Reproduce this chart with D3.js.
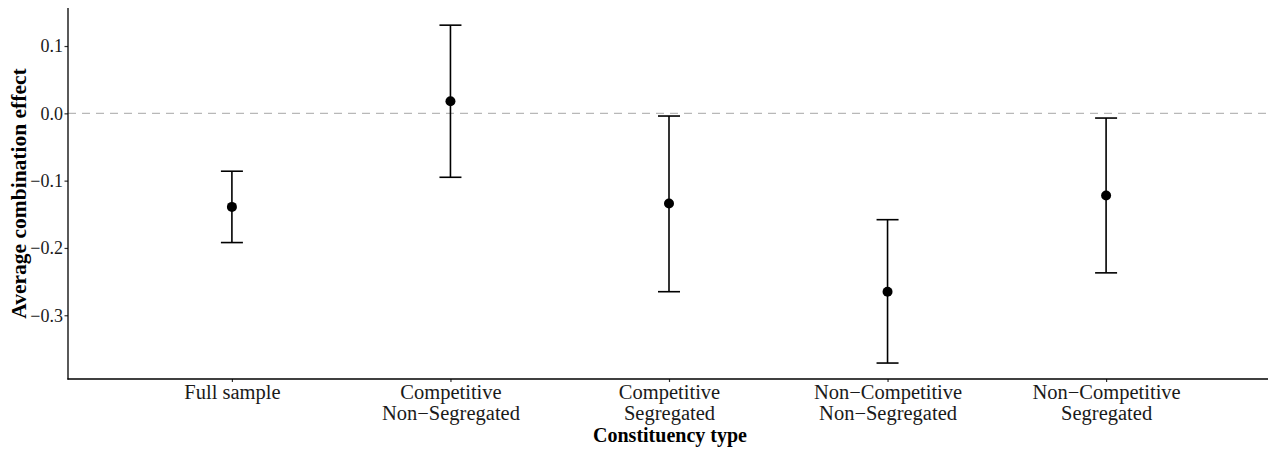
<!DOCTYPE html>
<html>
<head>
<meta charset="utf-8">
<script src="https://cdn.jsdelivr.net/npm/d3@7"></script>
<style>
  html, body { margin: 0; padding: 0; background: #fff; }
  svg { display: block; }
  text { font-family: "Liberation Serif", "Times New Roman", Times, serif; }
</style>
</head>
<body>
<svg id="chart" width="1268" height="449"></svg>
<script>
// ---- data ----
const categories = [
  "Full sample",
  "Competitive\nNon\u2212Segregated",
  "Competitive\nSegregated",
  "Non\u2212Competitive\nNon\u2212Segregated",
  "Non\u2212Competitive\nSegregated"
];
const estimates = [-0.139, 0.018, -0.134, -0.265, -0.122];
const lowerCI   = [-0.192, -0.095, -0.265, -0.371, -0.237];
const upperCI   = [-0.086, 0.131, -0.004, -0.158, -0.007];
const yTicks = [-0.3, -0.2, -0.1, 0.0, 0.1];
const yTickLabels = ["\u22120.3", "\u22120.2", "\u22120.1", "0.0", "0.1"];
const xTitle = "Constituency type";
const yTitle = "Average combination effect";

// ---- layout ----
const svg = d3.select("#chart");
const mLeft = 68, mRight = 1270, mTop = 8, mBottom = 379;

const x = d3.scalePoint().domain(categories).range([mLeft, mRight]).padding(0.75);
const y = d3.scaleLinear().domain([-0.3947, 0.1565]).range([mBottom, mTop]);

const data = categories.map((c, i) => ({c, est: estimates[i], lo: lowerCI[i], hi: upperCI[i]}));

// reference line at zero
svg.append("line")
  .attr("x1", mLeft).attr("x2", 1268)
  .attr("y1", y(0)).attr("y2", y(0))
  .attr("stroke", "#b8b8b8").attr("stroke-width", 1.3)
  .attr("stroke-dasharray", "8,6");

// error bars
const capHalf = 11;
const g = svg.append("g");
g.selectAll("line.v").data(data).join("line")
  .attr("class", "v")
  .attr("x1", d => x(d.c)).attr("x2", d => x(d.c))
  .attr("y1", d => y(d.lo)).attr("y2", d => y(d.hi))
  .attr("stroke", "#000").attr("stroke-width", 1.6);
g.selectAll("line.capTop").data(data).join("line")
  .attr("class", "capTop")
  .attr("x1", d => x(d.c) - capHalf).attr("x2", d => x(d.c) + capHalf)
  .attr("y1", d => y(d.hi)).attr("y2", d => y(d.hi))
  .attr("stroke", "#000").attr("stroke-width", 1.6);
g.selectAll("line.capBot").data(data).join("line")
  .attr("class", "capBot")
  .attr("x1", d => x(d.c) - capHalf).attr("x2", d => x(d.c) + capHalf)
  .attr("y1", d => y(d.lo)).attr("y2", d => y(d.lo))
  .attr("stroke", "#000").attr("stroke-width", 1.6);
g.selectAll("circle").data(data).join("circle")
  .attr("cx", d => x(d.c)).attr("cy", d => y(d.est))
  .attr("r", 5).attr("fill", "#000");

// y axis
const yAxis = d3.axisLeft(y)
  .tickValues(yTicks)
  .tickFormat((d, i) => yTickLabels[i])
  .tickSize(3.5).tickPadding(1.5);
const ya = svg.append("g").attr("transform", `translate(${mLeft},0)`).call(yAxis);
ya.select(".domain").remove();
ya.selectAll(".tick line").attr("stroke", "#333").attr("stroke-width", 1.2);
ya.selectAll(".tick text").attr("font-size", 18).attr("fill", "#1a1a1a")
  .attr("font-family", "'Liberation Serif', 'Times New Roman', serif");
svg.append("line").attr("x1", mLeft).attr("x2", mLeft).attr("y1", mTop).attr("y2", mBottom + 0.6)
  .attr("stroke", "#000").attr("stroke-width", 1.3);

// x axis
const xAxis = d3.axisBottom(x).tickSize(3).tickPadding(0);
const xa = svg.append("g").attr("transform", `translate(0,${mBottom})`).call(xAxis);
xa.select(".domain").remove();
xa.selectAll(".tick line").attr("stroke", "#333").attr("stroke-width", 1.2);
xa.selectAll(".tick text").each(function(d) {
  const t = d3.select(this);
  t.text(null).attr("y", null).attr("dy", null)
   .attr("font-size", 20.5).attr("fill", "#1a1a1a")
   .attr("font-family", "'Liberation Serif', 'Times New Roman', serif");
  d.split("\n").forEach((line, k) => {
    t.append("tspan").attr("x", 0).attr("y", 19.5 + k * 21).text(line);
  });
});
svg.append("line").attr("x1", mLeft - 0.6).attr("x2", 1268).attr("y1", mBottom).attr("y2", mBottom)
  .attr("stroke", "#000").attr("stroke-width", 1.3);

// titles
svg.append("text")
  .attr("x", (mLeft + 1268) / 2 + 2).attr("y", 441.5)
  .attr("text-anchor", "middle").attr("font-size", 20).attr("font-weight", "bold")
  .attr("fill", "#000").text(xTitle);
svg.append("text")
  .attr("transform", `translate(25.5,${(mTop + mBottom) / 2}) rotate(-90)`)
  .attr("text-anchor", "middle").attr("font-size", 21.5).attr("font-weight", "bold")
  .attr("fill", "#000").text(yTitle);
</script>
</body>
</html>
